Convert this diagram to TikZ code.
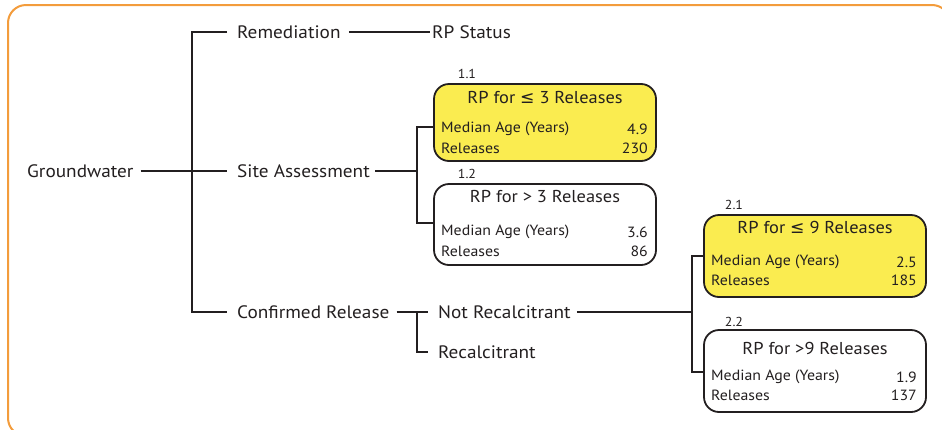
\documentclass[tikz,border=0pt]{standalone}
\usepackage{fontspec}
\setmainfont[FakeStretch=1.07]{PT Sans}
\newfontfamily\symf{DejaVu Sans}
\definecolor{frameor}{RGB}{243,156,60}
\definecolor{boxyel}{RGB}{250,236,80}
\definecolor{ink}{RGB}{35,31,32}
\newcommand{\lesym}{{\symf\char"2264}}
\begin{document}
\begin{tikzpicture}[x=1pt,y=-1pt,
  txt/.style={font=\fontsize{18}{21}\selectfont, text=ink, inner sep=0pt, anchor=west},
  ttl/.style={font=\fontsize{17.2}{20}\selectfont, text=ink, inner sep=0pt},
  rowl/.style={font=\fontsize{14.8}{17}\selectfont, text=ink, inner sep=0pt, anchor=west},
  rowr/.style={font=\fontsize{14.8}{17}\selectfont, text=ink, inner sep=0pt, anchor=east},
  num/.style={font=\fontsize{13}{15}\selectfont, text=ink, inner sep=0pt},
  conn/.style={draw=ink, line width=1.2pt},
  bx/.style={draw=ink, line width=1.8pt, rounded corners=15pt, minimum width=222pt, inner sep=0pt}
]
\useasboundingbox (0,0) rectangle (942,429);
\draw[frameor, line width=2pt, rounded corners=18pt] (8,5) rectangle (950,436);

% text nodes
\node[txt] (gw)  at (27,171) {Groundwater};
\node[txt] (rem) at (237,32) {Remediation};
\node[txt] (rps) at (432,32) {RP Status};
\node[txt] (sa)  at (237,171) {Site Assessment};
\node[txt] (cr)  at (237,312) {Confirmed Release};
\node[txt] (nr)  at (438,312) {Not Recalcitrant};
\node[txt] (rc)  at (438,352) {Recalcitrant};

% boxes
\node[bx, fill=boxyel, minimum height=77pt] (b11) at (545,122.5) {};
\node[bx, fill=white, minimum height=81pt] (b12) at (545,224.5) {};
\node[bx, fill=boxyel, minimum height=82pt] (b21) at (815,256) {};
\node[bx, fill=white, minimum height=82pt] (b22) at (815,371) {};

\node[num] (l11) at (467,74) {1.1};
\node[num] (l12) at (467,174) {1.2};
\node[num] (l21) at (734,205) {2.1};
\node[num] (l22) at (734,322) {2.2};

\node[ttl] (t11) at (b11 |- 0,98) {RP for \lesym\ 3 Releases};
\node[rowl] (m11) at (441,129) {Median Age (Years)};
\node[rowr] (v11) at (648,129) {4.9};
\node[rowl] (r11) at (441,148) {Releases};
\node[rowr] (w11) at (648,148) {230};

\node[ttl] (t12) at (b12 |- 0,197) {RP for > 3 Releases};
\node[rowl] (m12) at (441,232) {Median Age (Years)};
\node[rowr] (v12) at (648,232) {3.6};
\node[rowl] (r12) at (441,251) {Releases};
\node[rowr] (w12) at (648,251) {86};

\node[ttl] (t21) at (b21 |- 0,227) {RP for \lesym\ 9 Releases};
\node[rowl] (m21) at (711,262) {Median Age (Years)};
\node[rowr] (v21) at (917,262) {2.5};
\node[rowl] (r21) at (711,280) {Releases};
\node[rowr] (w21) at (917,280) {185};

\node[ttl] (t22) at (b22 |- 0,348) {RP for >9 Releases};
\node[rowl] (m22) at (711,377) {Median Age (Years)};
\node[rowr] (v22) at (917,377) {1.9};
\node[rowl] (r22) at (711,395) {Releases};
\node[rowr] (w22) at (917,395) {137};

% junction coordinates
\coordinate (j1) at (192,171);
\coordinate (j2) at (417,171);
\coordinate (j3) at (417,312);
\coordinate (j4) at (692,312);
\coordinate (c11) at (417,127);
\coordinate (c12) at (417,223);
\coordinate (c21) at (692,256);
\coordinate (c22) at (692,372);

% connectors
\draw[conn] ([xshift=7pt]gw.east) -- ([xshift=-10pt]sa.west);
\draw[conn] ([xshift=-10pt]rem.west) -| (j1) |- ([xshift=-10pt]cr.west);
\draw[conn] ([xshift=8pt]rem.east) -- ([xshift=-2pt]rps.west);
\draw[conn] ([xshift=5pt]sa.east) -- (j2);
\draw[conn] (b11.west |- c11) -- (c11) -- (c12) -- (b12.west |- c12);
\draw[conn] ([xshift=7pt]cr.east) -- ([xshift=-10pt]nr.west);
\draw[conn] (j3) |- ([xshift=-10pt]rc.west);
\draw[conn] ([xshift=6pt]nr.east) -- (j4);
\draw[conn] (b21.west |- c21) -- (c21) -- (c22) -- (b22.west |- c22);
\end{tikzpicture}
\end{document}
